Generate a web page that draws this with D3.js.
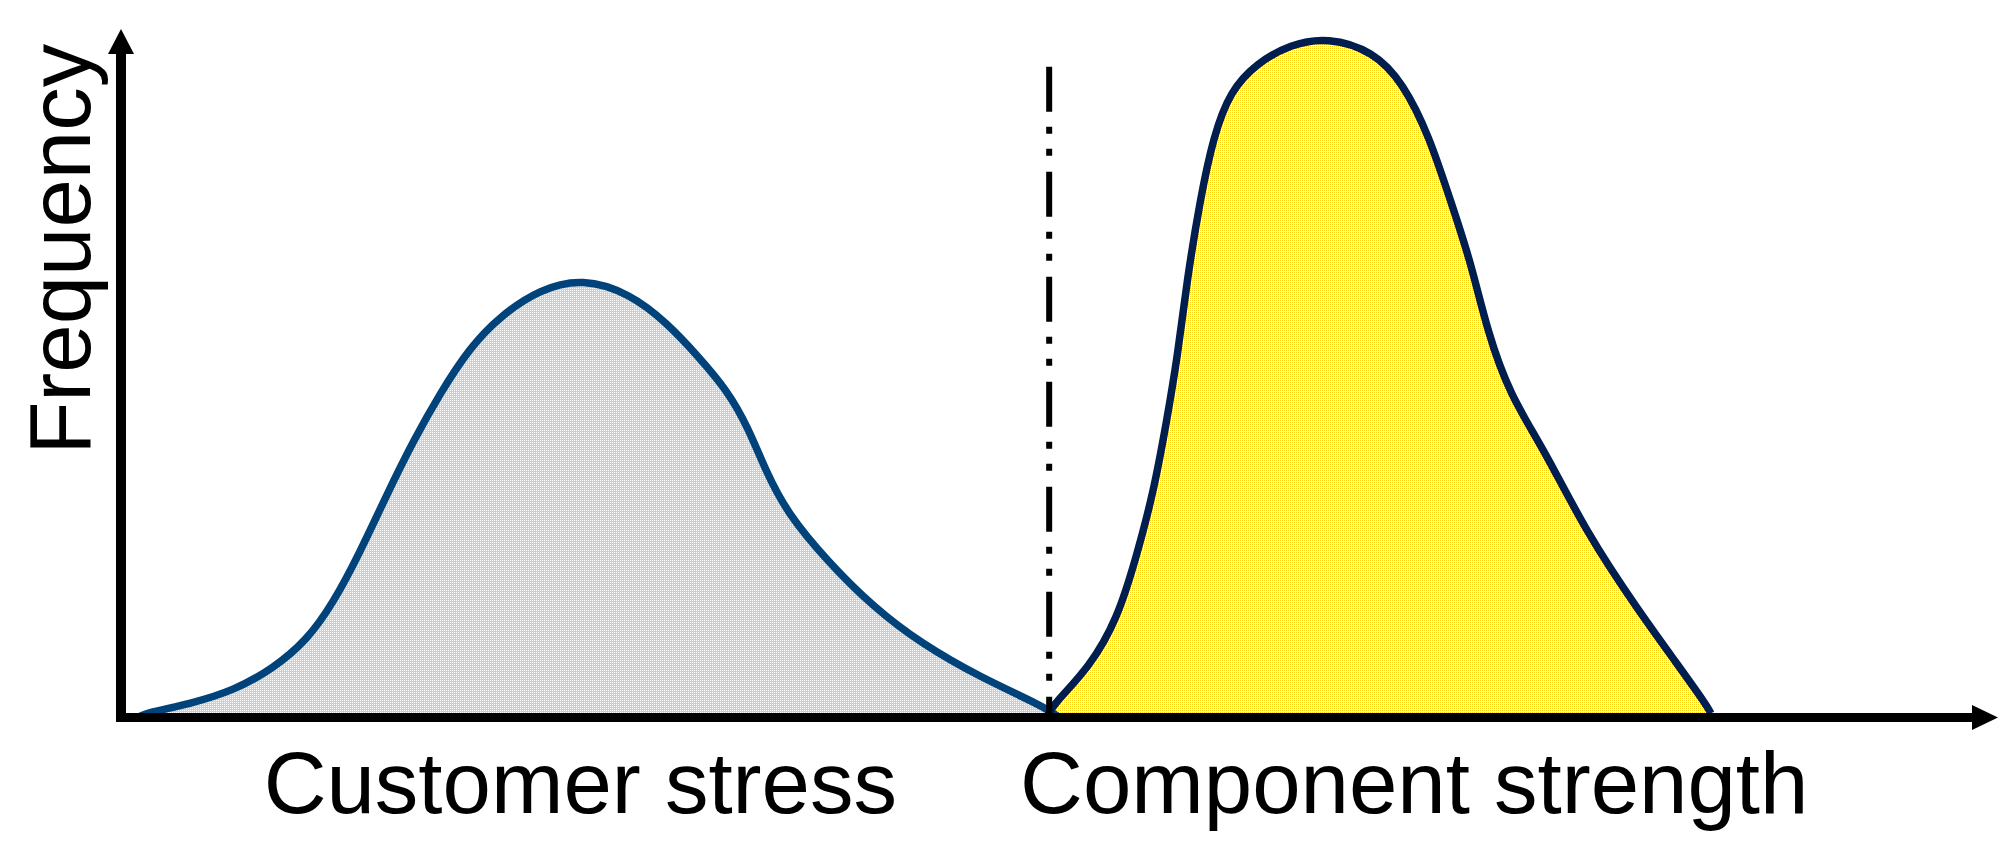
<!DOCTYPE html>
<html>
<head>
<meta charset="utf-8">
<script src="https://cdn.jsdelivr.net/npm/d3@7"></script>
<style>
  html, body { margin: 0; padding: 0; background: #fff; }
  svg { display: block; }
  text { font-family: 'Liberation Sans', Arial, sans-serif; fill: #000; }
</style>
</head>
<body>
<div class="chart"></div>
<script>
// curves: x = stress / strength (0..100), y = frequency (0..100)
const stressX = [0.9, 1.4, 3.7, 6.0, 8.1, 9.9, 11.3, 12.7, 14.2, 15.6, 17.0, 18.6, 20.2, 22.3, 24.6, 27.1, 29.1, 30.8, 32.3, 33.4, 34.4, 35.5, 37.6, 40.1, 42.6, 45.8, 49.1, 50.0]
const stressY = [0, 0.7, 2.0, 3.9, 7.1, 11.2, 16.6, 23.8, 32.6, 40.3, 47.1, 53.8, 58.3, 62.2, 63.8, 61.6, 57.3, 52.3, 47.5, 42.2, 35.5, 29.7, 22.8, 16.0, 10.8, 5.8, 1.7, 0]

const strengthX = [49.3, 49.7, 51.6, 53.1, 54.1, 55.0, 55.7, 56.3, 56.8, 57.5, 58.2, 59.1, 60.5, 62.3, 64.3, 66.7, 68.3, 69.7, 70.8, 71.9, 72.8, 74.0, 75.8, 78.1, 80.8, 82.9, 84.5, 84.7]
const strengthY = [0, 2.0, 7.3, 14.4, 23.4, 32.6, 42.9, 52.6, 63.7, 75.3, 84.4, 91.0, 95.0, 97.8, 98.8, 96.8, 92.2, 84.4, 75.3, 66.3, 56.0, 46.8, 39.0, 26.7, 15.7, 7.8, 1.7, 0.6]

const threshold = 49.45
const thresholdTop = 94.5

const xLabels = ['Customer stress', 'Component strength']
const xLabelPos = [7.6, 47.9]
const yLabel = 'Frequency'

function drawChart (container) {
  const fullWidth = 2012
  const fullHeight = 845

  const xScale = d3.scaleLinear().domain([0, 100]).range([121, 1998])
  const yScale = d3.scaleLinear().domain([0, 100]).range([717.5, 29])

  const svg = d3.select(container)
    .append('svg')
      .attr('width', fullWidth)
      .attr('height', fullHeight)

  // dotted fills like the original
  const defs = svg.append('defs')
  const blue = defs.append('pattern')
    .attr('id', 'dotsBlue')
    .attr('width', 2).attr('height', 2)
    .attr('patternUnits', 'userSpaceOnUse')
  blue.append('rect').attr('width', 2).attr('height', 2).attr('fill', '#a6dbf8')
  blue.append('rect').attr('width', 1).attr('height', 1).attr('fill', '#ffffff')

  const yellow = defs.append('pattern')
    .attr('id', 'dotsYellow')
    .attr('width', 2).attr('height', 2)
    .attr('patternUnits', 'userSpaceOnUse')
  yellow.append('rect').attr('width', 2).attr('height', 2).attr('fill', '#ffffff')
  yellow.append('rect').attr('width', 1).attr('height', 1).attr('fill', '#ffcf10')

  const stress = stressX.map((x, i) => ({ x, y: stressY[i] }))
  const strength = strengthX.map((x, i) => ({ x, y: strengthY[i] }))

  const area = d3.area()
    .x(d => xScale(d.x))
    .y0(yScale(0))
    .y1(d => yScale(d.y))
    .curve(d3.curveBasis)

  const line = d3.line()
    .x(d => xScale(d.x))
    .y(d => yScale(d.y))
    .curve(d3.curveBasis)

  // areas
  svg.append('path')
    .attr('d', area(stress))
    .attr('fill', 'url(#dotsBlue)')
  svg.append('path')
    .attr('d', area(strength))
    .attr('fill', 'url(#dotsYellow)')

  // outlines
  svg.append('path')
    .attr('d', line(stress))
    .attr('fill', 'none')
    .attr('stroke', '#00437a')
    .attr('stroke-width', 7.5)
  svg.append('path')
    .attr('d', line(strength))
    .attr('fill', 'none')
    .attr('stroke', '#001e4e')
    .attr('stroke-width', 7.5)

  // dash-dot threshold
  svg.append('line')
    .attr('x1', xScale(threshold))
    .attr('x2', xScale(threshold))
    .attr('y1', yScale(thresholdTop))
    .attr('y2', yScale(0))
    .attr('stroke', '#000')
    .attr('stroke-width', 6)
    .attr('stroke-dasharray', '45 15 7 15 7 16')

  // axes with arrow heads
  const x0 = xScale(0)
  const y0 = yScale(0)
  const xEnd = xScale(100)
  const yEnd = yScale(100)

  svg.append('line')
    .attr('x1', x0 - 5).attr('x2', xEnd - 24)
    .attr('y1', y0).attr('y2', y0)
    .attr('stroke', '#000')
    .attr('stroke-width', 9)
  svg.append('line')
    .attr('x1', x0).attr('x2', x0)
    .attr('y1', y0 + 4.5).attr('y2', yEnd + 24)
    .attr('stroke', '#000')
    .attr('stroke-width', 10)

  svg.append('path')
    .attr('d', `M${xEnd},${y0} L${xEnd - 26},${y0 - 12.5} L${xEnd - 26},${y0 + 12.5} Z`)
    .attr('fill', '#000')
  svg.append('path')
    .attr('d', `M${x0},${yEnd} L${x0 - 13},${yEnd + 25} L${x0 + 13},${yEnd + 25} Z`)
    .attr('fill', '#000')

  // labels
  svg.selectAll('.x-label')
    .data(xLabels)
    .enter()
      .append('text')
      .attr('class', 'x-label')
      .attr('x', (d, i) => xScale(xLabelPos[i]))
      .attr('y', 813)
      .attr('font-size', 87)
      .text(d => d)

  svg.append('text')
    .attr('transform', `translate(90, ${yScale(68)}) rotate(-90)`)
    .attr('text-anchor', 'middle')
    .attr('font-size', 87)
    .text(yLabel)

  return svg
}

drawChart('.chart')
</script>
</body>
</html>
